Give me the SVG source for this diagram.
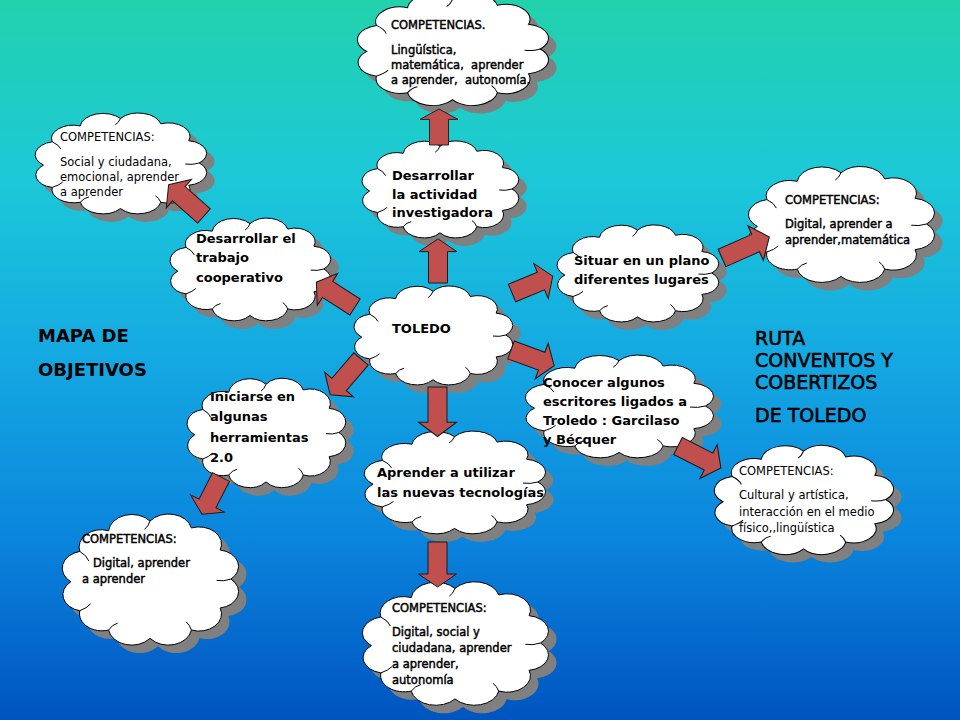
<svg xmlns="http://www.w3.org/2000/svg" width="960" height="720" viewBox="0 0 960 720">
<defs>
<linearGradient id="bg" x1="0" y1="0" x2="0" y2="1">
<stop offset="0" stop-color="#22d2ac"/>
<stop offset="0.25" stop-color="#1cc8d8"/>
<stop offset="0.5" stop-color="#14a8e2"/>
<stop offset="0.75" stop-color="#0a84dc"/>
<stop offset="1" stop-color="#0054c0"/>
</linearGradient>
<symbol id="cloud" viewBox="0 0 100 100" preserveAspectRatio="none" style="overflow:visible">
<path vector-effect="non-scaling-stroke" d="M6,52 A12.5,12.5 0 0 1 11,30 A12.5,12.5 0 0 1 27,15 A13,13 0 0 1 50,8 A13,13 0 0 1 73,13 A12.5,12.5 0 0 1 89,29 A12,12 0 0 1 95,50 A12,12 0 0 1 89,71 A12.5,12.5 0 0 1 73,87 A13,13 0 0 1 50,93 A13,13 0 0 1 27,87 A12.5,12.5 0 0 1 11,73 A12,12 0 0 1 6,52 Z"/>
<path fill="none" vector-effect="non-scaling-stroke" d="M11,30 Q15,33 16,37 M50,8 Q49,12 47,14 M95,50 Q91,52 87,51 M73,87 Q72,83 70,81 M27,87 Q29,83 32,82 M11,73 Q15,71 17,68"/>
</symbol>
<path id="arrow" d="M0,-9.5 H32 V-19 L45,0 L32,19 V9.5 H0 Z"/>
</defs>
<style>
.shadow{fill:#808080;stroke:none}
.cloud{fill:#fff;stroke:#000;stroke-width:1}
.arr{fill:#c0504d;stroke:#1a1a1a;stroke-width:1}
text{font-family:"DejaVu Sans","Liberation Sans",sans-serif;fill:#000}
.obj{font-size:13px;font-weight:bold}
.comp{font-size:11.5px}
.med{stroke:#000;stroke-width:0.45}
.title{font-size:18px;font-weight:bold}
.ruta{font-size:19px;stroke:#000;stroke-width:0.6}
</style>
<rect width="960" height="720" fill="url(#bg)"/>

<g id="titulo-mapa">
<text class="title" x="38" y="342">MAPA DE</text>
<text class="title" x="38" y="376">OBJETIVOS</text>
</g>
<g id="titulo-ruta">
<text class="ruta" x="755" y="345">RUTA</text>
<text class="ruta" x="755" y="367">CONVENTOS Y</text>
<text class="ruta" x="755" y="389">COBERTIZOS</text>
<text class="ruta" x="755" y="422">DE TOLEDO</text>
</g>

<g id="comp-top">
<use href="#cloud" class="shadow" x="363" y="-2" width="195" height="118"/>
<use href="#cloud" class="cloud" x="355" y="-10" width="195" height="118"/>
<text class="comp med" x="391" y="29">COMPETENCIAS.</text>
<text class="comp med" x="391" y="54">Lingüística,</text>
<text class="comp med" x="391" y="69" xml:space="preserve">matemática,  aprender</text>
<text class="comp med" x="391" y="84" xml:space="preserve">a aprender,  autonomía.</text>
</g>

<g id="comp-social">
<use href="#cloud" class="shadow" x="41" y="118" width="175" height="106"/>
<use href="#cloud" class="cloud" x="33" y="110" width="175" height="106"/>
<text class="comp" x="60" y="141">COMPETENCIAS:</text>
<text class="comp" x="60" y="166">Social y ciudadana,</text>
<text class="comp" x="60" y="181">emocional, aprender</text>
<text class="comp" x="60" y="196">a aprender</text>
</g>

<g id="investigadora">
<use href="#cloud" class="shadow" x="368" y="146" width="160" height="102"/>
<use href="#cloud" class="cloud" x="360" y="138" width="160" height="102"/>
<text class="obj" x="392" y="180">Desarrollar</text>
<text class="obj" x="392" y="198.5">la actividad</text>
<text class="obj" x="392" y="217">investigadora</text>
</g>

<g id="cooperativo">
<use href="#cloud" class="shadow" x="176" y="223" width="164" height="108"/>
<use href="#cloud" class="cloud" x="168" y="215" width="164" height="108"/>
<text class="obj" x="196" y="243">Desarrollar el</text>
<text class="obj" x="196" y="262">trabajo</text>
<text class="obj" x="196" y="282">cooperativo</text>
</g>

<g id="toledo">
<use href="#cloud" class="shadow" x="360" y="291" width="162" height="104"/>
<use href="#cloud" class="cloud" x="352" y="283" width="162" height="104"/>
<text class="obj" x="392" y="333">TOLEDO</text>
</g>

<g id="situar">
<use href="#cloud" class="shadow" x="563" y="230" width="165" height="102"/>
<use href="#cloud" class="cloud" x="555" y="222" width="165" height="102"/>
<text class="obj" x="574" y="265">Situar en un plano</text>
<text class="obj" x="574" y="284">diferentes lugares</text>
</g>

<g id="comp-digital">
<use href="#cloud" class="shadow" x="754" y="171" width="190" height="122"/>
<use href="#cloud" class="cloud" x="746" y="163" width="190" height="122"/>
<text class="comp med" x="785" y="204">COMPETENCIAS:</text>
<text class="comp med" x="785" y="228">Digital, aprender a</text>
<text class="comp med" x="785" y="244">aprender,matemática</text>
</g>

<g id="iniciarse">
<use href="#cloud" class="shadow" x="193" y="383" width="162" height="115"/>
<use href="#cloud" class="cloud" x="185" y="375" width="162" height="115"/>
<text class="obj" x="210" y="401">Iniciarse en</text>
<text class="obj" x="210" y="421">algunas</text>
<text class="obj" x="210" y="442">herramientas</text>
<text class="obj" x="210" y="462">2.0</text>
</g>

<g id="conocer">
<use href="#cloud" class="shadow" x="531" y="360" width="192" height="108"/>
<use href="#cloud" class="cloud" x="523" y="352" width="192" height="108"/>
<text class="obj" x="543" y="387">Conocer algunos</text>
<text class="obj" x="543" y="406">escritores ligados a</text>
<text class="obj" x="543" y="425">Troledo : Garcilaso</text>
<text class="obj" x="543" y="444">y Bécquer</text>
</g>

<g id="aprender">
<use href="#cloud" class="shadow" x="370" y="436" width="185" height="108"/>
<use href="#cloud" class="cloud" x="362" y="428" width="185" height="108"/>
<text class="obj" x="377" y="477">Aprender a utilizar</text>
<text class="obj" x="377" y="497">las nuevas tecnologías</text>
</g>

<g id="comp-cultural">
<use href="#cloud" class="shadow" x="720" y="450" width="183" height="115"/>
<use href="#cloud" class="cloud" x="712" y="442" width="183" height="115"/>
<text class="comp" x="739" y="475">COMPETENCIAS:</text>
<text class="comp" x="739" y="499">Cultural y artística,</text>
<text class="comp" x="739" y="516">interacción en el medio</text>
<text class="comp" x="739" y="532">físico,,lingüística</text>
</g>

<g id="comp-herramientas">
<use href="#cloud" class="shadow" x="68" y="518" width="180" height="138"/>
<use href="#cloud" class="cloud" x="60" y="510" width="180" height="138"/>
<text class="comp med" x="82" y="543">COMPETENCIAS:</text>
<text class="comp med" x="93" y="567">Digital, aprender</text>
<text class="comp med" x="82" y="583">a aprender</text>
</g>

<g id="comp-tecnologias">
<use href="#cloud" class="shadow" x="368" y="586" width="190" height="130"/>
<use href="#cloud" class="cloud" x="360" y="578" width="190" height="130"/>
<text class="comp med" x="392" y="612">COMPETENCIAS:</text>
<text class="comp med" x="392" y="636">Digital, social y</text>
<text class="comp med" x="392" y="652">ciudadana, aprender</text>
<text class="comp med" x="392" y="668">a aprender,</text>
<text class="comp med" x="392" y="684">autonomía</text>
</g>

<g id="connectors">
<use href="#arrow" class="arr" transform="translate(438,283) rotate(-90) scale(0.98,1)"/>
<use href="#arrow" class="arr" transform="translate(439,145) rotate(-90) scale(0.8,1)"/>
<use href="#arrow" class="arr" transform="translate(355,307) rotate(212.7) scale(1.02,1)"/>
<use href="#arrow" class="arr" transform="translate(204,216) rotate(221.6) scale(1.05,1)"/>
<use href="#arrow" class="arr" transform="translate(512,293) rotate(-22.5) scale(0.98,1)"/>
<use href="#arrow" class="arr" transform="translate(722,258) rotate(-24) scale(1.15,1)"/>
<use href="#arrow" class="arr" transform="translate(511,350) rotate(20) scale(1.02,1)"/>
<use href="#arrow" class="arr" transform="translate(678,446) rotate(27) scale(1.07,1)"/>
<use href="#arrow" class="arr" transform="translate(361,359) rotate(130.7) scale(1.05,1)"/>
<use href="#arrow" class="arr" transform="translate(221,477) rotate(117) scale(0.93,1)"/>
<use href="#arrow" class="arr" transform="translate(437.5,387) rotate(90) scale(1.1,1)"/>
<use href="#arrow" class="arr" transform="translate(437.5,542) rotate(90) scale(1,1)"/>
</g>
</svg>
